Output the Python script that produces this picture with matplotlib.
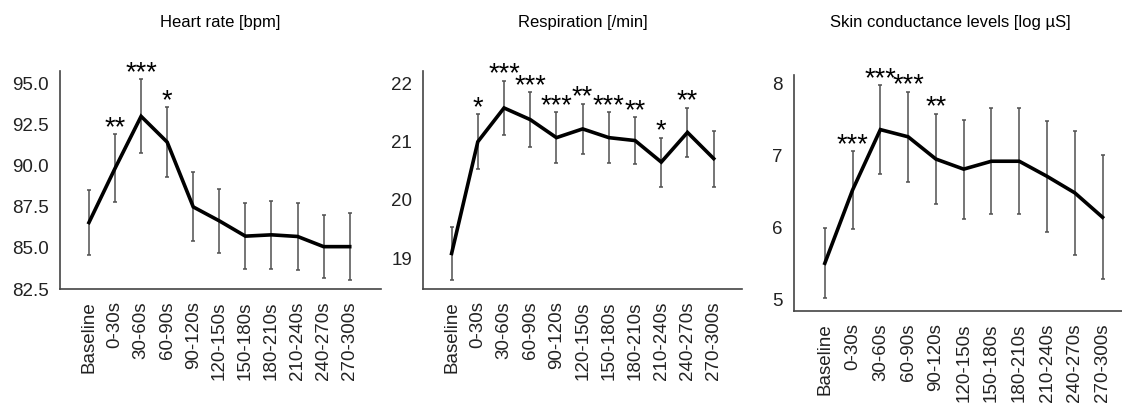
import numpy as np
import matplotlib
matplotlib.use('Agg')
from matplotlib import pyplot as plt

plt.rcParams['font.family'] = ['Liberation Sans', 'DejaVu Sans']

labels = ['Baseline', '0-30s', '30-60s', '60-90s', '90-120s', '120-150s',
          '150-180s', '180-210s', '210-240s', '240-270s', '270-300s']

# heart rate [bpm]
hr_mean = [86.55, 89.85, 93.02, 91.45, 87.50, 86.65, 85.72, 85.80, 85.70, 85.08, 85.08]
hr_err = [2.00, 2.07, 2.25, 2.12, 2.10, 1.95, 2.00, 2.07, 2.03, 1.94, 2.03]
hr_sig = ['', '**', '***', '*', '', '', '', '', '', '', '']

# respiration [/min]
resp_mean = [19.08, 21.00, 21.58, 21.38, 21.07, 21.22, 21.07, 21.02, 20.65, 21.16, 20.71]
resp_err = [0.45, 0.47, 0.47, 0.47, 0.44, 0.43, 0.44, 0.40, 0.42, 0.42, 0.48]
resp_sig = ['', '*', '***', '***', '***', '**', '***', '**', '*', '**', '']

# skin conductance levels [log uS]
scl_mean = [5.50, 6.52, 7.36, 7.26, 6.95, 6.81, 6.92, 6.92, 6.71, 6.48, 6.14]
scl_err = [0.49, 0.54, 0.62, 0.63, 0.63, 0.69, 0.74, 0.74, 0.77, 0.86, 0.86]
scl_sig = ['', '***', '***', '***', '**', '', '', '', '', '', '']

W, H = 1122, 407
fig = plt.figure(figsize=(W/100., H/100.), dpi=100)

def px_axes(x0, x1, ytop, ybot):
    return fig.add_axes([x0/W, 1-ybot/H, (x1-x0)/W, (ybot-ytop)/H])

def panel(ax, mean, err, sig, ylim, yticks, fmt, xlim):
    x = np.arange(len(labels))
    ax.errorbar(x, mean, yerr=err, fmt='none', ecolor='#505050', elinewidth=1.1,
                capsize=1.7, capthick=1.1, zorder=2)
    ax.plot(x, mean, '-', color='black', lw=2.6, zorder=3, solid_joinstyle='miter')
    for i in range(len(x)):
        if sig[i]:
            ax.annotate(sig[i], (x[i], mean[i]+err[i]), xytext=(0, -0.5),
                        textcoords='offset points', ha='center', va='baseline',
                        fontsize=19.5)
    ax.set_xlim(xlim)
    ax.set_ylim(ylim)
    ax.set_yticks(yticks)
    ax.set_yticklabels([fmt % v for v in yticks])
    ax.set_xticks(x)
    ax.set_xticklabels(labels, rotation=90)
    ax.tick_params(length=0, labelsize=13.5, colors='#222222')
    ax.tick_params(axis='y', pad=8)
    ax.tick_params(axis='x', pad=9)
    for s in ['top', 'right']:
        ax.spines[s].set_visible(False)
    for s in ['left', 'bottom']:
        ax.spines[s].set_color('#444444')
        ax.spines[s].set_linewidth(1.2)
    ax.patch.set_visible(False)

ax1 = px_axes(60, 381, 70.7, 289)
panel(ax1, hr_mean, hr_err, hr_sig, (82.5, 95.8), [82.5, 85, 87.5, 90, 92.5, 95], '%.1f', (-1.11, 11.2))
ax2 = px_axes(423.3, 742, 70.7, 289)
panel(ax2, resp_mean, resp_err, resp_sig, (18.47, 22.22), [19, 20, 21, 22], '%d', (-1.08, 11.08))
ax3 = px_axes(793.7, 1122, 75, 310.7)
panel(ax3, scl_mean, scl_err, scl_sig, (4.84, 8.12), [5, 6, 7, 8], '%d', (-1.12, 10.7))

fig.text(220/W, 1-22/H, 'Heart rate [bpm]', ha='center', va='center', fontsize=12)
fig.text(583/W, 1-22/H, 'Respiration [/min]', ha='center', va='center', fontsize=12)
fig.text(950/W, 1-22/H, 'Skin conductance levels [log µS]', ha='center', va='center', fontsize=12)

fig.savefig('out.png', dpi=100)
